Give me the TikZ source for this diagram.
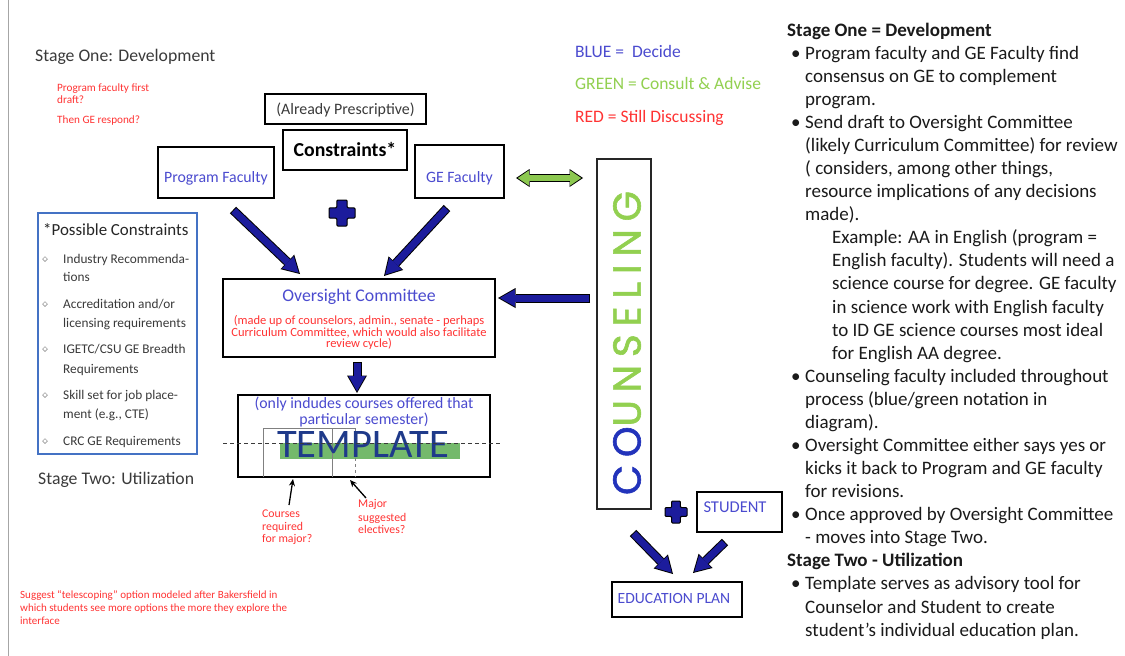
\documentclass[tikz,border=0pt]{standalone}
\usepackage{fontspec}
\setmainfont{Carlito}
\newfontfamily\counsfont[LetterSpace=20,FakeBold=1.5]{Poppins}
\usetikzlibrary{arrows.meta,shapes.geometric}
\definecolor{tblue}{HTML}{4B4BCF}
\definecolor{ablue}{HTML}{1C1C9C}
\definecolor{cblue}{HTML}{2233BB}
\definecolor{tgreen}{HTML}{92D050}
\definecolor{agreen}{HTML}{8CC850}
\definecolor{tred}{HTML}{FF3333}
\definecolor{dgray}{HTML}{3A3A3A}
\definecolor{rtxt}{HTML}{1A1A1A}
\definecolor{cbox}{HTML}{4472C4}
\definecolor{tmpl}{HTML}{1F3A8A}
\definecolor{tbar}{HTML}{74B96C}
\newcommand{\rtf}{\fontsize{19}{23}\selectfont}
\newcommand{\bplus}[3]{%
  \begin{scope}[shift={(#1,#2)},scale=#3]
  \draw[fill=ablue,draw=black,line width=1pt,rounded corners=1pt]
    (-0.2,-0.5) -- (0.2,-0.5) -- (0.2,-0.2) -- (0.5,-0.2) -- (0.5,0.2) -- (0.2,0.2) --
    (0.2,0.5) -- (-0.2,0.5) -- (-0.2,0.2) -- (-0.5,0.2) -- (-0.5,-0.2) -- (-0.2,-0.2) -- cycle;
  \end{scope}}
\begin{document}
\begin{tikzpicture}[x=1pt,y=-1pt,
  lbl/.style={anchor=base west,inner sep=0pt},
  clbl/.style={anchor=base,inner sep=0pt},
  box/.style={draw=black,line width=1.7pt,fill=white,inner sep=0pt},
  rt/.style={anchor=base west,inner sep=0pt,font=\rtf,text=rtxt},
  ct/.style={anchor=base west,inner sep=0pt,font=\fontsize{13.3}{15}\selectfont,text=dgray},
  dia/.style={diamond,draw=gray,line width=0.5pt,inner sep=0pt,minimum size=5pt},
  blockarr/.style={line width=7pt,draw=ablue,shorten >=1.8pt,shorten <=1pt,
    -{Triangle[length=15pt,width=17pt,line width=0pt]},
    preaction={draw=black,line width=9pt,shorten >=0pt,shorten <=0pt,
      -{Triangle[length=17.5pt,width=20pt,line width=0pt]}}},
  greenarr/.style={line width=6pt,draw=agreen,shorten >=1.8pt,shorten <=1.8pt,
    {Triangle[length=11pt,width=15pt,line width=0pt]}-{Triangle[length=11pt,width=15pt,line width=0pt]},
    preaction={draw=black,line width=8pt,shorten >=0pt,shorten <=0pt,
      {Triangle[length=13.5pt,width=18pt,line width=0pt]}-{Triangle[length=13.5pt,width=18pt,line width=0pt]}}},
  smallarr/.style={draw=black,line width=1.3pt,-{Stealth[length=7pt,width=6pt]}}
]
\fill[white] (0,0) rectangle (1125,656);
\useasboundingbox (0,0) rectangle (1125,656);
\draw[gray!70,line width=1pt] (8,0) -- (8,656);

% stage labels
\node[lbl,font=\fontsize{17.7}{20}\selectfont,text=dgray] (s1) at (35,61) {Stage One: Development};
\node[lbl,font=\fontsize{17.7}{20}\selectfont,text=dgray] (s2) at (38,484) {Stage Two: Utilization};
\node[lbl,font=\fontsize{11.2}{13}\selectfont,text=tred] (q1) at (57,91) {Program faculty first};
\node[lbl,font=\fontsize{11.2}{13}\selectfont,text=tred] (q2) at (57,103.5) {draft?};
\node[lbl,font=\fontsize{11.2}{13}\selectfont,text=tred] (q3) at (57,123) {Then GE respond?};

% legend
\node[lbl,font=\fontsize{17.5}{20}\selectfont,text=tblue] (lg1) at (575,57) {BLUE =\ \ Decide};
\node[lbl,font=\fontsize{17.5}{20}\selectfont,text=tgreen] (lg2) at (575,89) {GREEN = Consult \& Advise};
\node[lbl,font=\fontsize{17.5}{20}\selectfont,text=tred] (lg3) at (575,122) {RED = Still Discussing};

% top boxes
\node[box,minimum width=161,minimum height=30] (ap) at (345.5,109) {};
\node[clbl,font=\fontsize{15.9}{18}\selectfont,text=dgray] (apt) at (345.5,114.5) {(Already Prescriptive)};
\node[box,minimum width=124,minimum height=40] (con) at (345,150) {};
\node[clbl,font=\bfseries\fontsize{19.8}{22}\selectfont,text=black] (cont) at (345,156) {Constraints*};
\node[box,minimum width=116,minimum height=51] (pf) at (216,172.5) {};
\node[clbl,font=\fontsize{15.8}{18}\selectfont,text=tblue] (pft) at (216,182.5) {Program Faculty};
\node[box,minimum width=89,minimum height=53] (ge) at (459.5,171.5) {};
\node[clbl,font=\fontsize{15.8}{18}\selectfont,text=tblue] (get) at (459.5,182.5) {GE Faculty};

\bplus{342}{213}{26}

% green double arrow
\coordinate (g1) at (516,178);
\coordinate (g2) at (583,178);
\draw[greenarr] (g1) -- (g2);

% possible constraints
\node[draw=cbox,line width=1.3pt,minimum width=159,minimum height=241,inner sep=0pt] (pc) at (117.5,333.5) {};
\node[lbl,font=\fontsize{16.9}{19}\selectfont,text=black!85] (pct) at (43,235) {*Possible Constraints};
\node[ct] (c1a) at (63,263) {Industry Recommenda-};
\node[ct] (c1b) at (63,281) {tions};
\node[ct] (c2a) at (63,308) {Accreditation and/or};
\node[ct] (c2b) at (63,327) {licensing requirements};
\node[ct] (c3a) at (63,353) {IGETC/CSU GE Breadth};
\node[ct] (c3b) at (63,373) {Requirements};
\node[ct] (c4a) at (63,399) {Skill set for job place-};
\node[ct] (c4b) at (63,418) {ment (e.g., CTE)};
\node[ct] (c5a) at (63,445) {CRC GE Requirements};
\node[dia] (d1) at (45,259) {};
\node[dia] (d2) at (45,304) {};
\node[dia] (d3) at (45,349) {};
\node[dia] (d4) at (45,395) {};
\node[dia] (d5) at (45,441) {};

% oversight
\node[box,minimum width=272,minimum height=78] (ov) at (359,318) {};
\node[clbl,font=\fontsize{17.8}{20}\selectfont,text=tblue] (ovt) at (359,301) {Oversight Committee};
\node[align=center,inner sep=0pt,font=\fontsize{12.5}{10.5}\selectfont,text=tred] (ovr) at (359,332.5)
  {(made up of counselors, admin., senate - perhaps\\Curriculum Committee, which would also facilitate\\review cycle)};

% arrows into oversight
\coordinate (a1s) at (233,210);
\coordinate (a1e) at (300,274);
\draw[blockarr] (a1s) -- (a1e);
\coordinate (a2s) at (447,208);
\coordinate (a2e) at (384,276);
\draw[blockarr] (a2s) -- (a2e);
\coordinate (a3s) at (590,298);
\coordinate (a3e) at (498,298);
\draw[blockarr] (a3s) -- (a3e);
\coordinate (a4s) at (357,362);
\coordinate (a4e) at (357,393);
\draw[blockarr] (a4s) -- (a4e);

% template
\node[box,minimum width=252,minimum height=82] (tp) at (364,436) {};
\fill[tbar] (280,443) rectangle (460,459);
\draw[gray,line width=0.8pt] (263,477) -- (263,428) -- (355,428);
\draw[gray,line width=0.8pt] (332,428) -- (332,477);
\draw[gray,line width=0.8pt,dashed] (355,428) -- (355,477);
\node[clbl,font=\fontsize{40.5}{40}\selectfont,text=tmpl] (tpt) at (363,457) {TEMPLATE};
\draw[dgray,line width=0.8pt,dash pattern=on 4pt off 3pt] (223,443) -- (500,443);
\node[align=center,inner sep=0pt,font=\fontsize{15.8}{14}\selectfont,text=tblue] (tpb) at (364,412)
  {(only indudes courses offered that\\particular semester)};

% small arrows and notes
\coordinate (sa1s) at (289,505);
\coordinate (sa1e) at (293,479);
\draw[smallarr] (sa1s) -- (sa1e);
\coordinate (sa2s) at (366,498);
\coordinate (sa2e) at (350,480);
\draw[smallarr] (sa2s) -- (sa2e);
\node[lbl,font=\fontsize{11.8}{13}\selectfont,text=tred] (n1a) at (262,517) {Courses};
\node[lbl,font=\fontsize{11.8}{13}\selectfont,text=tred] (n1b) at (262,530) {required};
\node[lbl,font=\fontsize{11.8}{13}\selectfont,text=tred] (n1c) at (262,542.5) {for major?};
\node[lbl,font=\fontsize{11.8}{13}\selectfont,text=tred] (n2a) at (358,507) {Major};
\node[lbl,font=\fontsize{11.8}{13}\selectfont,text=tred] (n2b) at (358,521) {suggested};
\node[lbl,font=\fontsize{11.8}{13}\selectfont,text=tred] (n2c) at (358,533.5) {electives?};

% counseling
\node[draw=black!85,line width=1.3pt,minimum width=54,minimum height=350,inner sep=0pt,fill=white] (cs) at (624,334) {};
\node[rotate=90,inner sep=0pt,font=\counsfont\fontsize{39}{39}\selectfont] (cst) at (627,343)
  {\textcolor{cblue}{CO}\textcolor{tgreen}{UNSELING}};

% student and education plan
\bplus{676}{512}{22}
\node[box,minimum width=85,minimum height=40] (st) at (739.5,512) {};
\node[clbl,font=\fontsize{16.5}{18}\selectfont,text=tblue] (stt) at (735,512.5) {STUDENT};
\node[box,minimum width=130,minimum height=35] (ep) at (677,599.5) {};
\node[clbl,font=\fontsize{15.6}{18}\selectfont,text=tblue] (ept) at (674,603) {EDUCATION PLAN};
\coordinate (a5s) at (633,533);
\coordinate (a5e) at (673,574);
\draw[blockarr] (a5s) -- (a5e);
\coordinate (a6s) at (725,542);
\coordinate (a6e) at (693,573);
\draw[blockarr] (a6s) -- (a6e);

% bottom note
\node[lbl,font=\fontsize{11}{13}\selectfont,text=tred] (b1) at (20,598) {Suggest “telescoping” option modeled after Bakersfield in};
\node[lbl,font=\fontsize{11}{13}\selectfont,text=tred] (b2) at (20,611) {which students see more options the more they explore the};
\node[lbl,font=\fontsize{11}{13}\selectfont,text=tred] (b3) at (20,624) {interface};

% right column text
\node[rt,font=\bfseries\rtf] (r0) at (787,36) {Stage One = Development};
\node[rt] (u1) at (791,59.1) {•};
\node[rt] (r1) at (805,59.1) {Program faculty and GE Faculty find};
\node[rt] (r2) at (805,82.2) {consensus on GE to complement};
\node[rt] (r3) at (805,105.2) {program.};
\node[rt] (u2) at (791,128.3) {•};
\node[rt] (r4) at (805,128.3) {Send draft to Oversight Committee};
\node[rt] (r5) at (805,151.4) {(likely Curriculum Committee) for review};
\node[rt] (r6) at (805,174.5) {( considers, among other things,};
\node[rt] (r7) at (805,197.6) {resource implications of any decisions};
\node[rt] (r8) at (805,220.6) {made).};
\node[rt] (r9) at (832,243.7) {Example: AA in English (program =};
\node[rt] (r10) at (832,266.8) {English faculty). Students will need a};
\node[rt] (r11) at (832,289.9) {science course for degree. GE faculty};
\node[rt] (r12) at (832,313.0) {in science work with English faculty};
\node[rt] (r13) at (832,336.0) {to ID GE science courses most ideal};
\node[rt] (r14) at (832,359.1) {for English AA degree.};
\node[rt] (u3) at (791,382.2) {•};
\node[rt] (r15) at (805,382.2) {Counseling faculty included throughout};
\node[rt] (r16) at (805,405.3) {process (blue/green notation in};
\node[rt] (r17) at (805,428.4) {diagram).};
\node[rt] (u4) at (791,451.4) {•};
\node[rt] (r18) at (805,451.4) {Oversight Committee either says yes or};
\node[rt] (r19) at (805,474.5) {kicks it back to Program and GE faculty};
\node[rt] (r20) at (805,497.6) {for revisions.};
\node[rt] (u5) at (791,520.7) {•};
\node[rt] (r21) at (805,520.7) {Once approved by Oversight Committee};
\node[rt] (r22) at (805,543.8) {- moves into Stage Two.};
\node[rt,font=\bfseries\rtf] (r23) at (787,566.8) {Stage Two - Utilization};
\node[rt] (u6) at (791,589.9) {•};
\node[rt] (r24) at (805,589.9) {Template serves as advisory tool for};
\node[rt] (r25) at (805,613.0) {Counselor and Student to create};
\node[rt] (r26) at (805,636.1) {student’s individual education plan.};
\end{tikzpicture}
\end{document}
